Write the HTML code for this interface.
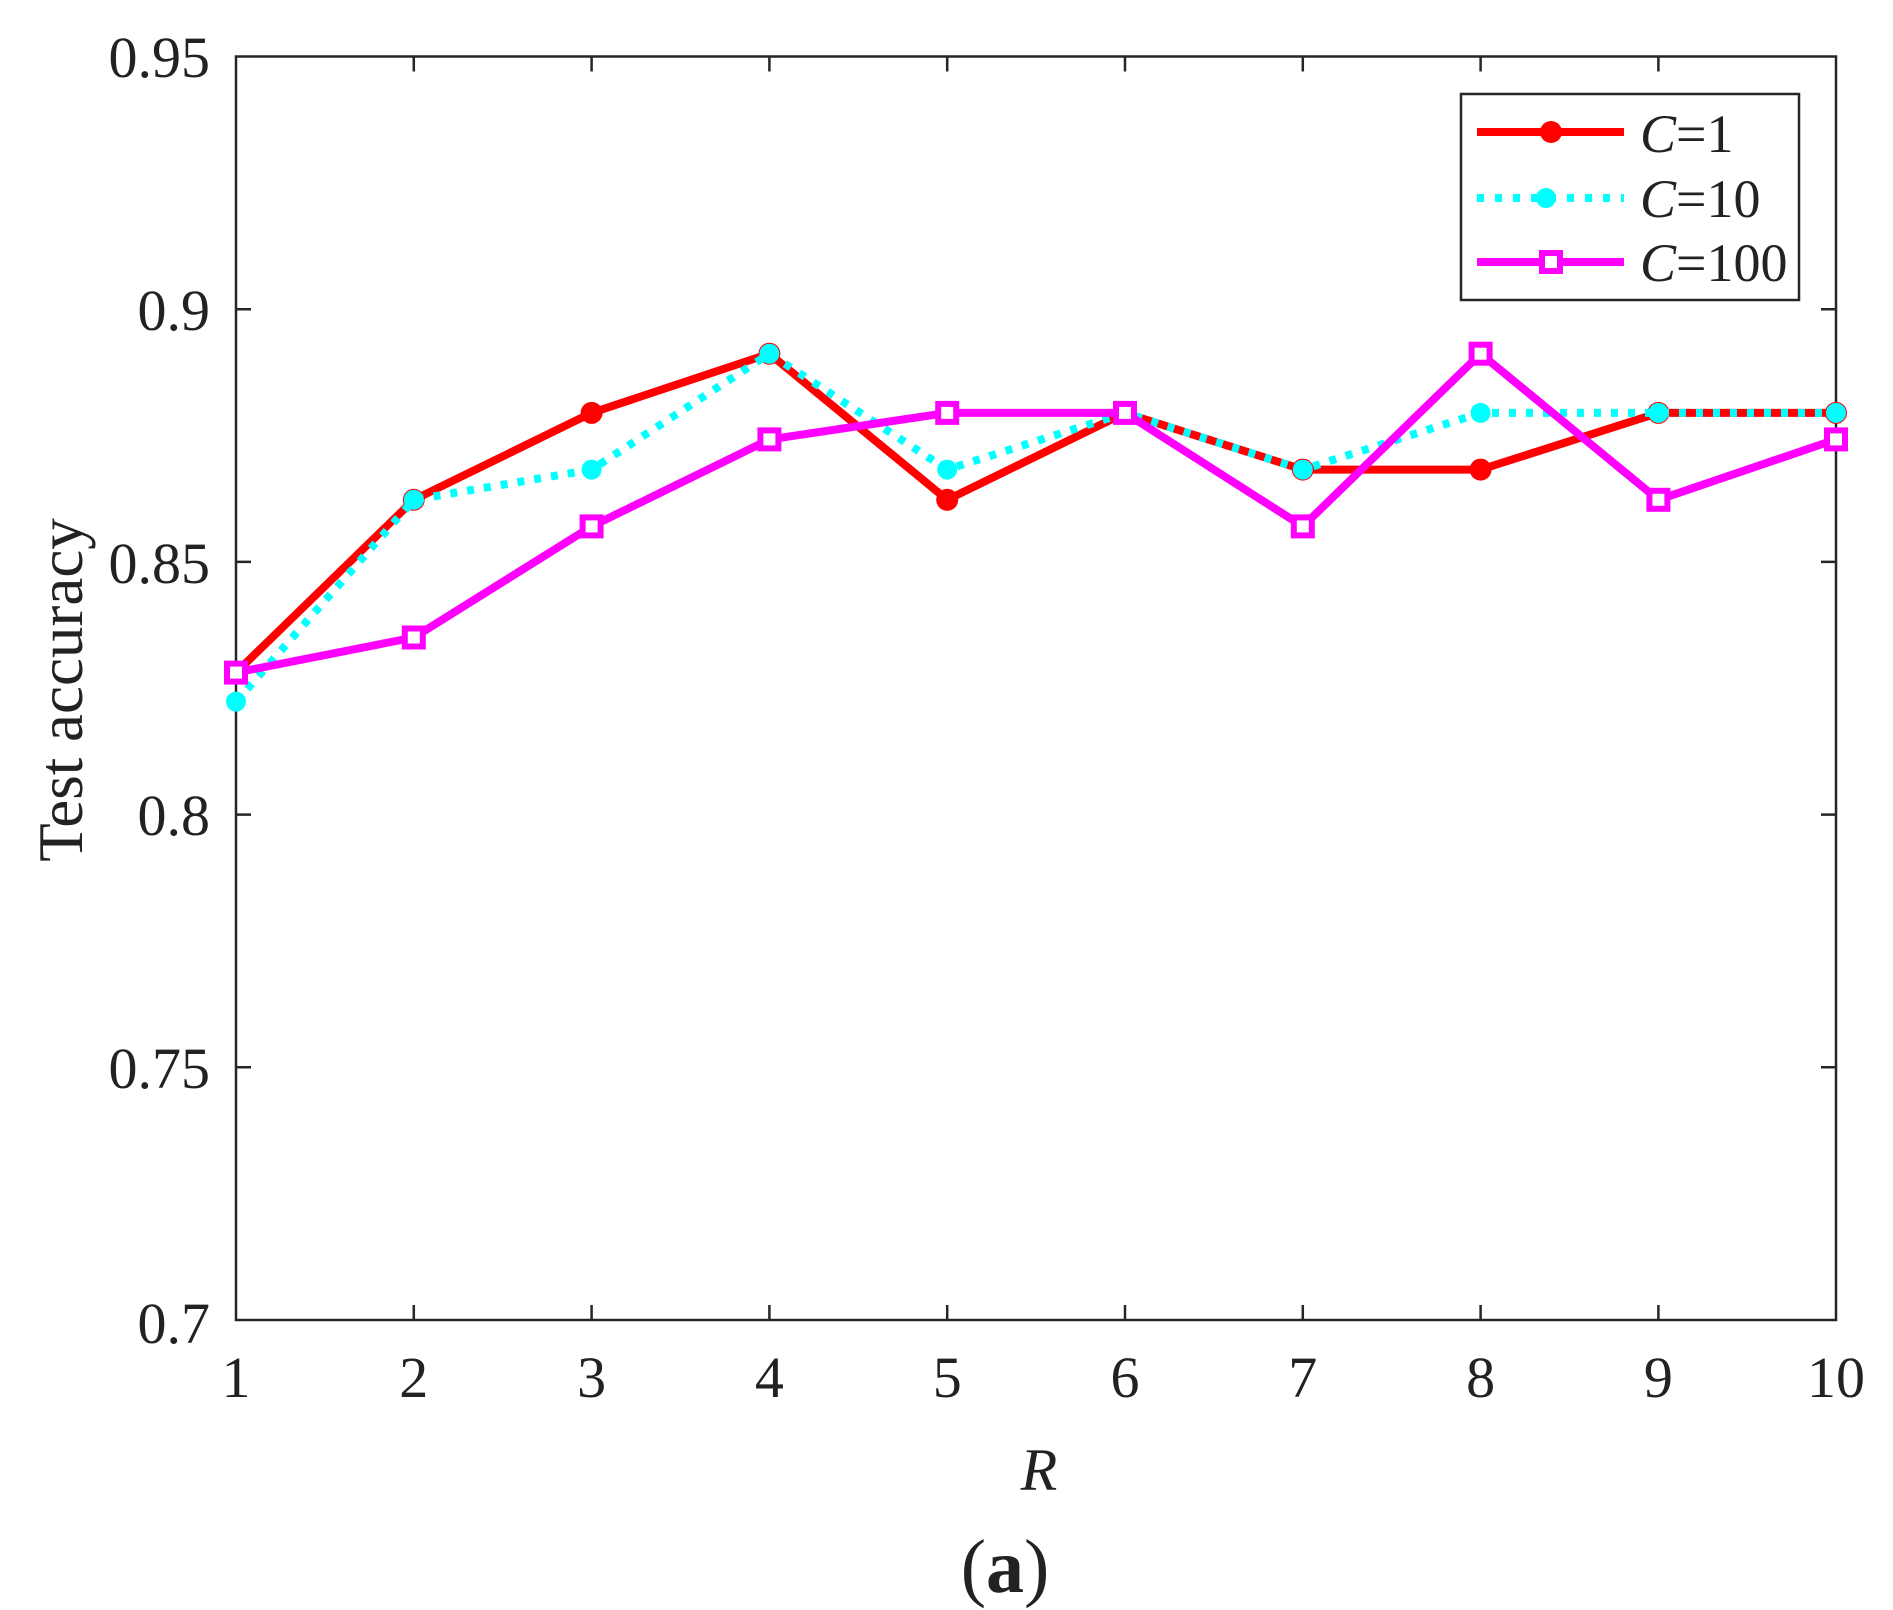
<!DOCTYPE html>
<html><head><meta charset="utf-8"><style>
html,body{margin:0;padding:0;background:#fff;}
svg{display:block;}
text{font-family:"Liberation Serif",serif;fill:#222;}
</style></head><body>
<svg width="1893" height="1610" viewBox="0 0 1893 1610" xmlns="http://www.w3.org/2000/svg">
<rect width="1893" height="1610" fill="#fff"/>
<rect x="236" y="56.5" width="1600" height="1263.5" fill="none" stroke="#262626" stroke-width="2.5"/>
<g stroke="#262626" stroke-width="2.5">
<path d="M413.8 1320v-15M591.6 1320v-15M769.4 1320v-15M947.2 1320v-15M1125 1320v-15M1302.8 1320v-15M1480.6 1320v-15M1658.4 1320v-15"/>
<path d="M413.8 56.5v15M591.6 56.5v15M769.4 56.5v15M947.2 56.5v15M1125 56.5v15M1302.8 56.5v15M1480.6 56.5v15M1658.4 56.5v15"/>
<path d="M236 309.2h15M236 561.9h15M236 814.6h15M236 1067.3h15"/>
<path d="M1836 309.2h-15M1836 561.9h-15M1836 814.6h-15M1836 1067.3h-15"/>
</g>
<g font-size="58" text-anchor="end">
<text x="210" y="77">0.95</text>
<text x="210" y="330">0.9</text>
<text x="210" y="583">0.85</text>
<text x="210" y="835">0.8</text>
<text x="210" y="1088">0.75</text>
<text x="210" y="1343">0.7</text>
</g>
<g font-size="58" text-anchor="middle">
<text x="236" y="1397">1</text>
<text x="413.8" y="1397">2</text>
<text x="591.6" y="1397">3</text>
<text x="769.4" y="1397">4</text>
<text x="947.2" y="1397">5</text>
<text x="1125" y="1397">6</text>
<text x="1302.8" y="1397">7</text>
<text x="1480.6" y="1397">8</text>
<text x="1658.4" y="1397">9</text>
<text x="1836" y="1397">10</text>
</g>
<text x="1039" y="1490" font-size="60" font-style="italic" text-anchor="middle">R</text>
<text transform="translate(82,690) rotate(-90)" font-size="63" text-anchor="middle">Test accuracy</text>
<text x="1005" y="1592" font-size="76" text-anchor="middle" fill="#000">(<tspan font-weight="bold">a</tspan>)</text>

<polyline fill="none" stroke="#ff0000" stroke-width="8" stroke-linejoin="round" points="236,672.6 413.8,499.8 591.6,412.9 769.4,353.7 947.2,499.8 1125,412.9 1302.8,469.6 1480.6,469.6 1658.4,412.9 1836,412.9"/>
<g fill="#ff0000">
<circle cx="236" cy="672.6" r="11"/><circle cx="413.8" cy="499.8" r="11"/><circle cx="591.6" cy="412.9" r="11"/><circle cx="769.4" cy="353.7" r="11"/><circle cx="947.2" cy="499.8" r="11"/><circle cx="1125" cy="412.9" r="11"/><circle cx="1302.8" cy="469.6" r="11"/><circle cx="1480.6" cy="469.6" r="11"/><circle cx="1658.4" cy="412.9" r="11"/><circle cx="1836" cy="412.9" r="11"/>
</g>
<polyline fill="none" stroke="#00ffff" stroke-width="8" stroke-dasharray="7 10" points="236,701.6 413.8,499.8 591.6,469.6 769.4,353.7 947.2,469.6 1125,412.9 1302.8,469.6 1480.6,412.9 1658.4,412.9 1836,412.9"/>
<g fill="#00ffff">
<circle cx="236" cy="701.6" r="10"/><circle cx="413.8" cy="499.8" r="10"/><circle cx="591.6" cy="469.6" r="10"/><circle cx="769.4" cy="353.7" r="10"/><circle cx="947.2" cy="469.6" r="10"/><circle cx="1125" cy="412.9" r="10"/><circle cx="1302.8" cy="469.6" r="10"/><circle cx="1480.6" cy="412.9" r="10"/><circle cx="1658.4" cy="412.9" r="10"/><circle cx="1836" cy="412.9" r="10"/>
</g>
<polyline fill="none" stroke="#ff00ff" stroke-width="8" stroke-linejoin="round" points="236,672.6 413.8,637.5 591.6,526.4 769.4,439.4 947.2,412.9 1125,412.9 1302.8,526.4 1480.6,353.7 1658.4,499.8 1836,439.4"/>
<g fill="#fff" stroke="#ff00ff" stroke-width="6">
<rect x="227" y="663.6" width="18" height="18"/><rect x="404.8" y="628.5" width="18" height="18"/><rect x="582.6" y="517.4" width="18" height="18"/><rect x="760.4" y="430.4" width="18" height="18"/><rect x="938.2" y="403.9" width="18" height="18"/><rect x="1116" y="403.9" width="18" height="18"/><rect x="1293.8" y="517.4" width="18" height="18"/><rect x="1471.6" y="344.7" width="18" height="18"/><rect x="1649.4" y="490.8" width="18" height="18"/><rect x="1827" y="430.4" width="18" height="18"/>
</g>

<rect x="1461" y="94" width="338" height="206" fill="#fff" stroke="#262626" stroke-width="2.5"/>
<line x1="1477" y1="132" x2="1624" y2="132" stroke="#ff0000" stroke-width="8"/>
<circle cx="1551" cy="132" r="11" fill="#ff0000"/>
<line x1="1477" y1="198" x2="1624" y2="198" stroke="#00ffff" stroke-width="8" stroke-dasharray="7 11"/>
<circle cx="1546" cy="198" r="10" fill="#00ffff"/>
<line x1="1477" y1="262" x2="1624" y2="262" stroke="#ff00ff" stroke-width="8"/>
<rect x="1542" y="253" width="18" height="18" fill="#fff" stroke="#ff00ff" stroke-width="6"/>
<g font-size="54">
<text x="1640" y="152"><tspan font-style="italic">C</tspan>=1</text>
<text x="1640" y="217"><tspan font-style="italic">C</tspan>=10</text>
<text x="1640" y="281"><tspan font-style="italic">C</tspan>=100</text>
</g>
</svg>
</body></html>
